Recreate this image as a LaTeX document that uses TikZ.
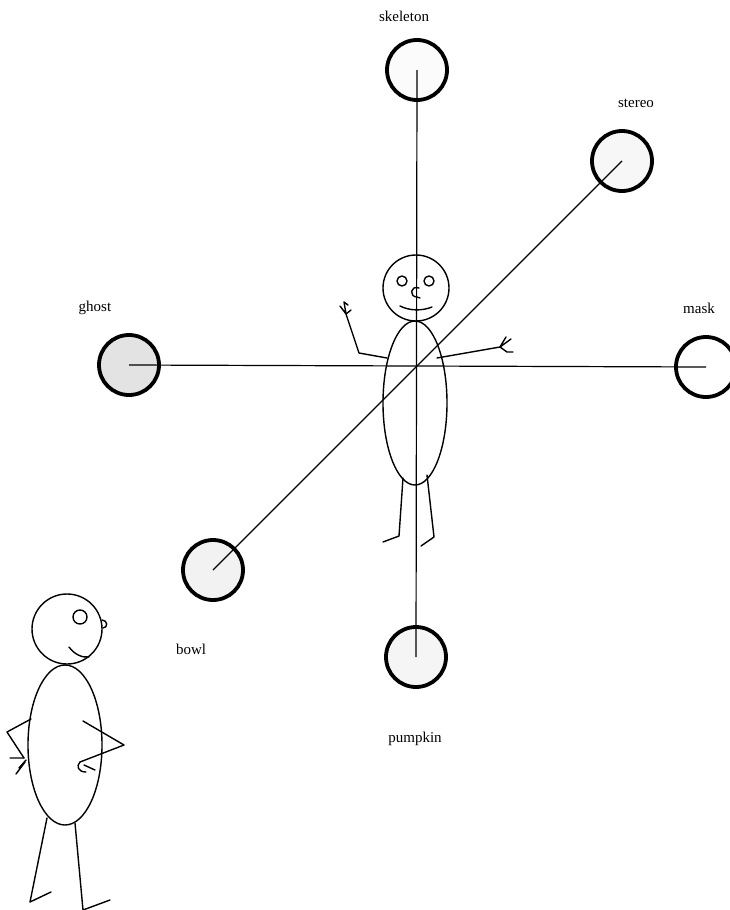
\documentclass[tikz,border=0pt]{standalone}
\usepackage{fontspec}
\setmainfont{Liberation Serif}
\usetikzlibrary{positioning}

\begin{document}
\begin{tikzpicture}[
  x=1pt, y=-1pt,
  thing/.style={circle, draw=black, line width=3.8pt, minimum size=60pt, inner sep=0pt},
  tag/.style={inner sep=0pt, font=\fontsize{15}{18}\selectfont},
  axis/.style={line width=1.2pt},
  figure/.style={line width=1.4pt, line cap=round, line join=round}
]
  \useasboundingbox (0,0) rectangle (729,910);

  % the six objects around the room
  \node[thing, fill=gray!3]  (skeleton) at (417,70)  {};
  \node[thing, fill=gray!6]  (stereo)   at (622,161) {};
  \node[thing, fill=gray!22] (ghost)    at (129,365) {};
  \node[thing, fill=white]   (mask)     at (706,367) {};
  \node[thing, fill=gray!10] (bowl)     at (213,570) {};
  \node[thing, fill=gray!8]  (pumpkin)  at (416,657) {};

  \node[tag] (t-skeleton) at (404,16)  {skeleton};
  \node[tag] (t-stereo)   at (636,103) {stereo};
  \node[tag] (t-ghost)    at (95,308)  {ghost};
  \node[tag] (t-mask)     at (699,308) {mask};
  \node[tag] (t-bowl)     at (191,649) {bowl};
  \node[tag] (t-pumpkin)  at (415,739) {pumpkin};

  % lines joining opposite objects
  \draw[axis] (skeleton.center) -- (pumpkin.center);
  \draw[axis] (ghost.center) -- (mask.center);
  \draw[axis] (stereo.center) -- (bowl.center);

  % figure in the middle
  \begin{scope}[figure]
    \draw (416,288) circle (33);
    \draw (402,281) circle (5);
    \draw (429,281) circle (5);
    \draw (419,288) .. controls (410,285) and (409,297) .. (417,297) -- (420,298);
    \draw (400,306) .. controls (410,311) and (422,311) .. (432,307);
    \draw (415,403) ellipse (32 and 82);
    % arms
    \draw (387,358) -- (359,353) -- (346,314);
    \draw (346,314) -- (340,306) (346,314) -- (344,302) -- (348,305) (346,314) -- (351,310);
    \draw (437,358) -- (500,347);
    \draw (500,347) -- (506,337) (500,347) -- (511,339) (500,347) -- (507,352) -- (513,352);
    % legs
    \draw (403,478) -- (399,536) -- (383,542);
    \draw (427,475) -- (434,537) -- (421,546);
  \end{scope}

  % figure standing in the corner
  \begin{scope}[figure]
    \draw (67,629) circle (35);
    \draw (80,617) circle (7);
    \draw (102,620) .. controls (108,620) and (108,628) .. (103,628);
    \draw (69,647) .. controls (74,654) and (82,658) .. (89,657);
    \draw (65,745) ellipse (37 and 80);
    % arms
    \draw (31,719) -- (7,732) -- (24,758);
    \draw (24,758) -- (10,758) (25,762) -- (16,774) (26,760) -- (19,768);
    \draw (83,721) -- (124,745) -- (80,762);
    \draw (80,762) .. controls (76,766) and (78,772) .. (86,772) (84,765) -- (95,770);
    % legs
    \draw (47,818) -- (30,902) -- (51,892);
    \draw (75,823) -- (83,910) -- (110,900);
  \end{scope}
\end{tikzpicture}
\end{document}
